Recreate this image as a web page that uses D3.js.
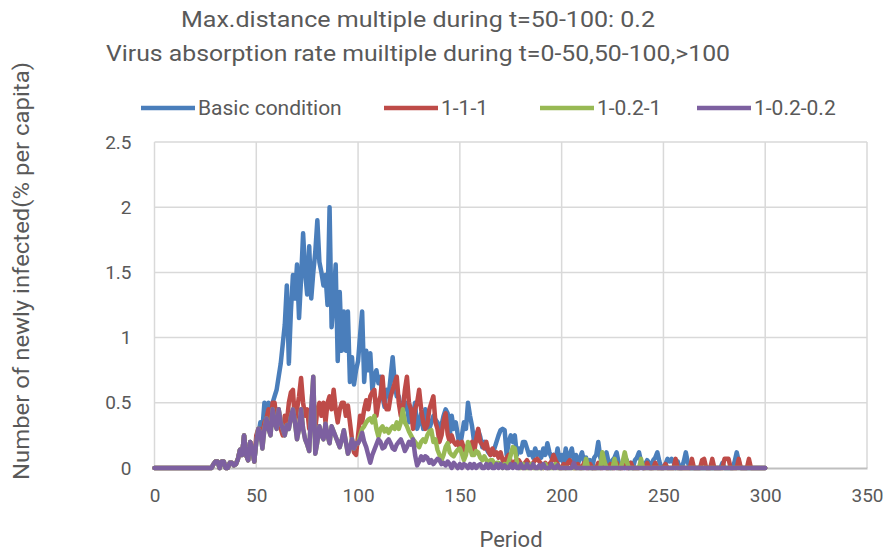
<!DOCTYPE html>
<html>
<head>
<meta charset="utf-8">
<script src="https://cdn.jsdelivr.net/npm/d3@7/dist/d3.min.js"></script>
<style>
  body { margin: 0; background: #fff; }
  text { font-family: Roboto, "Liberation Sans", sans-serif; fill: #595959; }
</style>
</head>
<body>
<svg id="chart" width="889" height="553"></svg>
<script>
// chart text
const titleLines = [
  "Max.distance multiple during t=50-100: 0.2",
  "Virus absorption rate muiltiple during t=0-50,50-100,>100"
];
const seriesNames = ["Basic condition", "1-1-1", "1-0.2-1", "1-0.2-0.2"];
const xTicks = [0, 50, 100, 150, 200, 250, 300, 350];
const yTicks = [0, 0.5, 1, 1.5, 2, 2.5];

// t = 0..49, identical for every run
const sharedEarly = [
  0, 0, 0, 0, 0, 0, 0, 0, 0, 0,
  0, 0, 0, 0, 0, 0, 0, 0, 0, 0,
  0, 0, 0, 0, 0, 0, 0, 0, 0, 0.03,
  0.05, 0.05, 0, 0.05, 0.05, 0, 0, 0.04, 0.04, 0.02,
  0.03, 0.07, 0.14, 0.1, 0.25, 0.1, 0.06, 0.2, 0.15, 0.05
];

// t = 50..300
const basicMain = [
  0.2, 0.25, 0.35, 0.3, 0.5, 0.3, 0.5, 0.45, 0.5, 0.55,
  0.6, 0.7, 0.8, 0.95, 1.1, 1.4, 0.8, 1.2, 1.48, 1.3,
  1.56, 1.15, 1.45, 1.8, 1.5, 1.33, 1.7, 1.3, 1.5, 1.66,
  1.9, 1.58, 1.5, 1.4, 1.48, 1.25, 2.0, 1.08, 1.3, 1.56,
  0.82, 1.35, 0.9, 1.2, 0.9, 1.2, 0.66, 0.85, 0.64, 0.75,
  0.82, 1.02, 1.2, 0.66, 0.9, 0.75, 0.88, 0.6, 0.7, 0.75,
  0.65, 0.7, 0.55, 0.47, 0.6, 0.55, 0.7, 0.85, 0.65, 0.55,
  0.55, 0.44, 0.5, 0.45, 0.5, 0.35, 0.45, 0.4, 0.5, 0.3,
  0.35, 0.42, 0.3, 0.45, 0.35, 0.3, 0.35, 0.4, 0.37, 0.35,
  0.3, 0.33, 0.4, 0.45, 0.42, 0.24, 0.4, 0.3, 0.35, 0.25,
  0.16, 0.25, 0.35, 0.3, 0.5, 0.4, 0.32, 0.2, 0.25, 0.29,
  0.24, 0.16, 0.2, 0.15, 0.12, 0.1, 0.12, 0.15, 0.2, 0.25,
  0.29, 0.3, 0.29, 0.1, 0.2, 0.25, 0.2, 0.25, 0.1, 0.15,
  0.12, 0.2, 0.2, 0.15, 0.1, 0.12, 0.08, 0.15, 0.1, 0.12,
  0.08, 0.15, 0.1, 0.19, 0.12, 0.08, 0.1, 0.06, 0.15, 0.06,
  0.1, 0.03, 0.15, 0.06, 0.1, 0.15, 0.05, 0.1, 0.03, 0.08,
  0.12, 0.05, 0.08, 0.03, 0.06, 0, 0.08, 0.1, 0.2, 0.08,
  0.03, 0.06, 0.12, 0.05, 0, 0.06, 0.08, 0.12, 0.04, 0,
  0.04, 0, 0.06, 0, 0.04, 0, 0.06, 0.08, 0.12, 0.05,
  0, 0.03, 0.06, 0.04, 0, 0.06, 0.08, 0.12, 0.05, 0,
  0, 0.03, 0.07, 0.05, 0.07, 0.04, 0, 0.05, 0, 0,
  0.05, 0.12, 0.04, 0, 0, 0, 0, 0, 0, 0,
  0, 0, 0, 0, 0, 0, 0, 0, 0, 0.04,
  0, 0, 0, 0, 0, 0.05, 0.12, 0.05, 0, 0,
  0, 0, 0, 0, 0, 0, 0, 0, 0, 0,
  0
];

// t = 50..300
const run111Main = [
  0.25, 0.3, 0.3, 0.25, 0.35, 0.38, 0.45, 0.3, 0.5, 0.5,
  0.35, 0.45, 0.3, 0.25, 0.4, 0.35, 0.5, 0.58, 0.6, 0.35,
  0.45, 0.55, 0.69, 0.5, 0.4, 0.45, 0.3, 0.4, 0.35, 0.3,
  0.45, 0.5, 0.4, 0.5, 0.35, 0.5, 0.55, 0.45, 0.6, 0.45,
  0.35, 0.45, 0.5, 0.5, 0.4, 0.48, 0.35, 0.22, 0.12, 0.1,
  0.25, 0.4, 0.35, 0.45, 0.52, 0.45, 0.55, 0.58, 0.6, 0.4,
  0.5, 0.55, 0.7, 0.5, 0.45, 0.45, 0.55, 0.6, 0.65, 0.7,
  0.5, 0.4, 0.45, 0.6, 0.7, 0.5, 0.45, 0.3, 0.45, 0.5,
  0.6, 0.45, 0.35, 0.3, 0.33, 0.45, 0.5, 0.55, 0.35, 0.3,
  0.2, 0.25, 0.36, 0.42, 0.26, 0.2, 0.25, 0.2, 0.18, 0.2,
  0.15, 0.2, 0.15, 0.12, 0.18, 0.15, 0.2, 0.12, 0.22, 0.3,
  0.2, 0.18, 0.15, 0.2, 0.13, 0.1, 0.15, 0.1, 0.12, 0.08,
  0.12, 0.06, 0.04, 0.08, 0.1, 0.05, 0.03, 0.05, 0.03, 0.06,
  0.03, 0, 0.04, 0.06, 0.03, 0, 0.04, 0.06, 0.07, 0.05,
  0.03, 0, 0.04, 0, 0.03, 0.05, 0.1, 0.06, 0.03, 0,
  0, 0.03, 0, 0.04, 0.06, 0.03, 0, 0, 0.03, 0,
  0, 0.04, 0, 0, 0.03, 0, 0, 0, 0.04, 0,
  0, 0.05, 0, 0, 0.03, 0, 0, 0.04, 0, 0,
  0, 0.03, 0, 0, 0.04, 0, 0, 0, 0, 0.03,
  0, 0, 0.04, 0, 0, 0, 0.04, 0, 0, 0,
  0, 0.03, 0, 0, 0, 0, 0.07, 0, 0, 0,
  0, 0, 0, 0, 0.07, 0, 0, 0, 0, 0.06,
  0.07, 0, 0, 0, 0.07, 0, 0, 0, 0, 0,
  0.07, 0.07, 0.07, 0, 0, 0, 0, 0.07, 0, 0,
  0, 0, 0.07, 0, 0, 0, 0, 0, 0, 0,
  0
];

// t = 50..300 (1-0.2-0.2)
const run02_02Main = [
  0.2, 0.3, 0.27, 0.15, 0.3, 0.38, 0.3, 0.25, 0.45, 0.35,
  0.3, 0.45, 0.35, 0.3, 0.25, 0.33, 0.3, 0.39, 0.45, 0.35,
  0.22, 0.3, 0.45, 0.3, 0.22, 0.18, 0.13, 0.45, 0.7, 0.11,
  0.2, 0.32, 0.25, 0.22, 0.34, 0.25, 0.19, 0.32, 0.28, 0.24,
  0.2, 0.16, 0.22, 0.29, 0.2, 0.11, 0.15, 0.22, 0.15, 0.19,
  0.19, 0.22, 0.27, 0.2, 0.16, 0.1, 0.04, 0.1, 0.14, 0.18,
  0.22, 0.2, 0.15, 0.16, 0.2, 0.22, 0.19, 0.15, 0.14, 0.18,
  0.2, 0.22, 0.18, 0.13, 0.16, 0.2, 0.18, 0.22, 0.1, 0.02,
  0.05, 0.09, 0.06, 0.09, 0.08, 0.04, 0.06, 0.03, 0.05, 0.07,
  0.06, 0.03, 0.04, 0.02, 0.05, 0.03, 0, 0.04, 0.02, 0,
  0.03, 0, 0.03, 0.02, 0, 0.03, 0, 0.03, 0, 0.02,
  0.03, 0, 0, 0.03, 0, 0.03, 0, 0, 0.03, 0,
  0.03, 0, 0.02, 0, 0, 0.03, 0, 0.03, 0, 0,
  0.03, 0, 0, 0.03, 0, 0, 0.03, 0, 0, 0.02,
  0, 0.03, 0, 0, 0, 0.03, 0, 0, 0.02, 0,
  0, 0, 0, 0, 0, 0, 0.04, 0, 0, 0,
  0, 0, 0, 0, 0, 0, 0, 0, 0, 0,
  0, 0, 0, 0, 0, 0, 0, 0, 0, 0,
  0, 0, 0, 0, 0, 0, 0, 0, 0, 0,
  0, 0, 0, 0, 0, 0, 0, 0, 0, 0,
  0, 0, 0, 0, 0, 0, 0, 0, 0, 0,
  0, 0, 0, 0, 0, 0, 0, 0, 0, 0,
  0, 0, 0, 0, 0, 0, 0, 0, 0, 0,
  0, 0, 0, 0, 0, 0, 0, 0, 0, 0,
  0, 0, 0, 0, 0, 0, 0, 0, 0, 0,
  0
];

// t = 100..300 (1-0.2-1); t = 50..99 is the same run as 1-0.2-0.2
const run02_1Late = [
  0.19, 0.25, 0.3, 0.32, 0.35, 0.37, 0.38, 0.35, 0.4, 0.3,
  0.24, 0.3, 0.32, 0.28, 0.3, 0.27, 0.3, 0.32, 0.3, 0.35,
  0.3, 0.35, 0.45, 0.35, 0.32, 0.28, 0.25, 0.22, 0.2, 0.18,
  0.16, 0.2, 0.22, 0.2, 0.25, 0.28, 0.29, 0.2, 0.22, 0.14,
  0.1, 0.06, 0.1, 0.16, 0.19, 0.12, 0.1, 0.09, 0.12, 0.14,
  0.15, 0.11, 0.06, 0.1, 0.2, 0.15, 0.1, 0.1, 0.13, 0.12,
  0.08, 0.06, 0.09, 0.06, 0.04, 0.06, 0.06, 0.03, 0.04, 0.04,
  0.03, 0, 0.03, 0, 0.05, 0.1, 0.16, 0.15, 0.05, 0,
  0, 0.03, 0, 0, 0, 0.03, 0, 0, 0, 0,
  0, 0, 0.03, 0, 0, 0, 0, 0.03, 0, 0,
  0, 0, 0, 0, 0, 0, 0, 0, 0, 0,
  0, 0, 0.07, 0, 0, 0, 0, 0, 0, 0,
  0.12, 0.05, 0, 0, 0, 0, 0.07, 0, 0, 0,
  0.05, 0.12, 0.05, 0, 0, 0, 0, 0, 0, 0.07,
  0, 0, 0, 0, 0, 0, 0, 0, 0, 0,
  0, 0, 0, 0, 0, 0, 0, 0, 0, 0,
  0, 0, 0, 0, 0, 0, 0, 0, 0, 0,
  0, 0, 0, 0, 0, 0, 0, 0, 0, 0,
  0, 0, 0, 0, 0, 0, 0, 0, 0, 0,
  0, 0, 0, 0, 0, 0, 0, 0, 0, 0,
  0
];

const colors = ["#4a7ebb", "#be4b48", "#98b954", "#7d60a0"];

const seriesValues = [
  sharedEarly.concat(basicMain),
  sharedEarly.concat(run111Main),
  sharedEarly.concat(run02_02Main.slice(0, 50), run02_1Late),
  sharedEarly.concat(run02_02Main)
];

const svg = d3.select("#chart");

const x = d3.scaleLinear().domain([0, 350]).range([154.5, 867]);
const y = d3.scaleLinear().domain([0, 2.5]).range([468, 142]);

// grid
svg.append("g").selectAll("line").data(yTicks.filter(d => d > 0)).join("line")
  .attr("x1", x(0)).attr("x2", x(350))
  .attr("y1", d => y(d)).attr("y2", d => y(d))
  .attr("stroke", "#d9d9d9").attr("stroke-width", 1.5);
svg.append("g").selectAll("line").data(xTicks).join("line")
  .attr("x1", d => x(d)).attr("x2", d => x(d))
  .attr("y1", y(0)).attr("y2", y(2.5))
  .attr("stroke", "#d9d9d9").attr("stroke-width", 1.5);

// axes
const yAxis = svg.append("g")
  .attr("transform", `translate(${x(0)},0)`)
  .call(d3.axisLeft(y).tickValues(yTicks).tickFormat(d => String(d)).tickSize(0).tickPadding(23));
yAxis.select(".domain").remove();
yAxis.selectAll("text").attr("font-size", 19).attr("fill", "#595959").attr("font-family", "Roboto");

const xAxis = svg.append("g")
  .attr("transform", `translate(0,${y(0)})`)
  .call(d3.axisBottom(x).tickValues(xTicks).tickFormat(d => String(d)).tickSize(0).tickPadding(21));
xAxis.select(".domain").attr("stroke", "#bfbfbf").attr("stroke-width", 2);
xAxis.selectAll("text").attr("font-size", 19).attr("fill", "#595959").attr("font-family", "Roboto");

// lines
const line = d3.line().x((d, i) => x(i)).y(d => y(d));
svg.append("g").selectAll("path").data(seriesValues).join("path")
  .attr("d", line)
  .attr("fill", "none")
  .attr("stroke", (d, i) => colors[i])
  .attr("stroke-width", 4.5)
  .attr("stroke-linejoin", "round")
  .attr("stroke-linecap", "round");

// titles
const titleWidths = [474, 624];
svg.append("g").selectAll("text").data(titleLines).join("text")
  .attr("x", 418).attr("y", (d, i) => 27 + i * 34)
  .attr("text-anchor", "middle")
  .attr("font-size", 22)
  .attr("textLength", (d, i) => titleWidths[i])
  .attr("lengthAdjust", "spacingAndGlyphs")
  .text(d => d);

// legend
const legendX = [141, 384, 540, 697];
const legend = svg.append("g").selectAll("g").data(seriesNames).join("g")
  .attr("transform", (d, i) => `translate(${legendX[i]},108)`);
legend.append("line")
  .attr("x1", 0).attr("x2", 54)
  .attr("stroke", (d, i) => colors[i]).attr("stroke-width", 4.5);
legend.append("text")
  .attr("x", 57).attr("y", 7)
  .attr("font-size", 21)
  .text(d => d);

// axis titles
svg.append("text")
  .attr("transform", "translate(29,271) rotate(-90)")
  .attr("text-anchor", "middle")
  .attr("font-size", 22)
  .attr("textLength", 418)
  .attr("lengthAdjust", "spacingAndGlyphs")
  .text("Number of newly infected(% per capita)");
svg.append("text")
  .attr("x", 511).attr("y", 547)
  .attr("text-anchor", "middle")
  .attr("font-size", 22)
  .text("Period");
</script>
</body>
</html>
